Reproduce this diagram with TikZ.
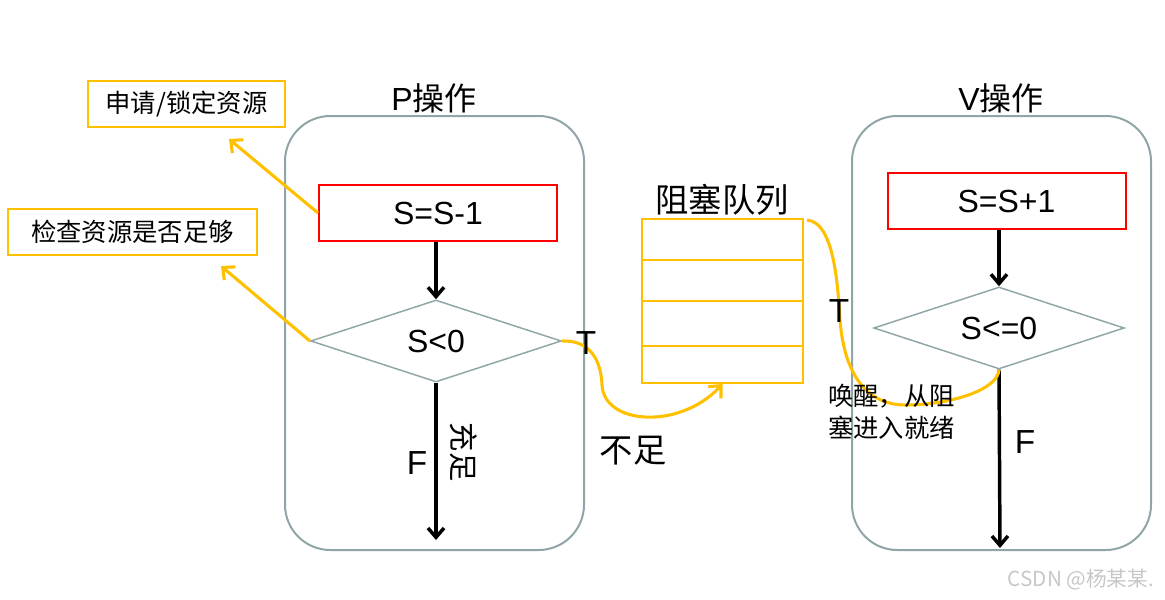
\documentclass[tikz,border=0pt]{standalone}
\usepackage{fontspec}
\setmainfont{Liberation Sans}
\newfontfamily\cjk{Noto Sans CJK SC}
\usetikzlibrary{shapes.geometric,arrows.meta}
\definecolor{ycol}{HTML}{FFC000}
\definecolor{gframe}{HTML}{8FA5A8}
\definecolor{rbox}{HTML}{FF0000}
\begin{document}
\begin{tikzpicture}[x=0.75pt,y=-0.75pt,
  frame/.style={draw=gframe,line width=1.5pt,rounded corners=34pt,minimum width=224.25pt,minimum height=325.5pt,inner sep=0pt},
  redbox/.style={draw=rbox,line width=1.5pt,minimum width=178.5pt,minimum height=42pt,inner sep=0pt,font=\fontsize{24}{28}\selectfont},
  decide/.style={diamond,aspect=3.05,draw=gframe,line width=1.1pt,minimum width=188pt,minimum height=61.5pt,inner sep=0pt,font=\fontsize{24}{28}\selectfont},
  callout/.style={draw=ycol,line width=1.5pt,minimum height=34.5pt,inner sep=0pt,font=\cjk\fontsize{19}{22}\selectfont},
  blackarrow/.style={draw=black,line width=2.6pt,-{Straight Barb[length=7pt,width=12pt]}},
  yarrow/.style={draw=ycol,line width=2.3pt,-{Straight Barb[length=7pt,width=13pt]}},
  ycurve/.style={draw=ycol,line width=2.3pt},
  lbl/.style={font=\fontsize{25}{28}\selectfont,inner sep=0pt},
  cjklbl/.style={font=\cjk\fontsize{25}{28}\selectfont,inner sep=0pt}]
\useasboundingbox (0,0) rectangle (1165,600);

% frames
\node[frame] (cl) at (434.5,333) {};
\node[frame] (cr) at (1001.5,333) {};
\node[inner sep=0pt,font=\fontsize{24}{28}\selectfont] (pt) at (434,98) {P{\cjk 操作}};
\node[inner sep=0pt,font=\fontsize{24}{28}\selectfont] (vt) at (1001,98) {V{\cjk 操作}};

% P operation
\node[redbox] (r1) at (438,213) {S=S-1};
\node[decide] (dl) at (436,341) {S<0};
\coordinate (fl) at (436,540);
\draw[blackarrow] (r1.south -| dl.north) -- (dl.north);
\draw[blackarrow] (dl.south) -- (fl);
\node[lbl] (fL) at (417,463) {F};
\node[cjklbl,font=\cjk\fontsize{22}{26}\selectfont,rotate=-90] (cz) at (464,452) {充足};

% V operation
\node[redbox] (r2) at (1006.5,201) {S=S+1};
\node[decide] (dr) at (999,328) {S<=0};
\coordinate (fr) at (1000,548);
\draw[blackarrow] (r2.south -| dr.north) -- (dr.north);
\draw[blackarrow] (dr.south) -- (fr);
\node[lbl] (fR) at (1025,442) {F};

% callouts
\node[callout,minimum width=147.75pt] (b1) at (186.5,104) {申请/锁定资源};
\node[callout,minimum width=186.75pt] (b2) at (132.5,232) {检查资源是否足够};
\coordinate (c1) at (229,139);
\coordinate (c2) at (221,266);
\draw[yarrow] (r1.west) -- (c1);
\draw[yarrow] (dl.west) -- (c2);

% queue
\node[draw=ycol,line width=1.5pt,minimum width=120.75pt,minimum height=123pt,inner sep=0pt] (q) at (722.5,301) {};
\draw[draw=ycol,line width=1.5pt] (q.west |- 0,260) -- (q.east |- 0,260)
  (q.west |- 0,301) -- (q.east |- 0,301)
  (q.west |- 0,346) -- (q.east |- 0,346);
\node[cjklbl] (qt) at (722,200) {阻塞队列};

% T branch of P
\draw[yarrow] (dl.east) .. controls (590,340) and (601,360) .. (602,385)
  .. controls (604,425) and (680,430) .. (q.south);
\node[lbl] (tL) at (586,343) {T};
\node[cjklbl] (bz) at (633,451) {不足};

% T branch of V
\coordinate (qs) at (807,220);
\draw[ycurve] (qs) .. controls (835,222) and (838,290) .. (840,320)
  .. controls (845,385) and (875,405) .. (905,405)
  .. controls (950,405) and (998,390) .. (dr.south);
\node[lbl] (tR) at (839,311) {T};
\node[anchor=west,align=left,inner sep=0pt,font=\cjk\fontsize{19}{24}\selectfont] (wk) at (828,412) {唤醒，从阻\\塞进入就绪};

% watermark
\node[inner sep=0pt,text=black!22,font=\cjk\fontsize{15.5}{18}\selectfont] (wm) at (1081,580) {CSDN @杨某某.};
\end{tikzpicture}
\end{document}
